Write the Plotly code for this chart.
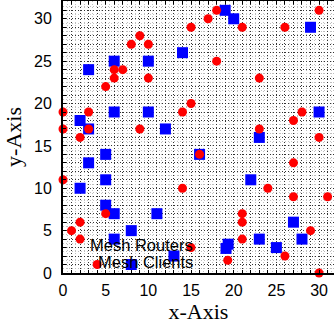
import plotly.graph_objects as go

# Mesh routers (blue squares)
routers_x = [3, 6, 10, 2, 6, 10, 3, 12, 5, 3,
             19, 20, 29, 14, 30, 23, 16,
             2, 5, 5, 6, 11, 8, 6, 8, 13,
             22, 27, 23, 28, 25, 19.1, 19.35]
routers_y = [24, 25, 25, 18, 19, 19, 17, 17, 14, 13,
             31, 30, 29, 26, 19, 16, 14,
             10, 11, 8, 7, 7, 5, 4, 1, 2,
             11, 6, 4, 4, 3, 2.9, 3.4]

# Mesh clients (red circles)
clients_x = [0, 0, 2, 3, 3, 5, 6, 6, 7, 8, 9, 10, 10, 9,
             18, 17, 15, 21, 26, 30, 18, 23, 15, 14, 28, 27, 23, 30, 16, 27,
             0, 2, 1, 2, 5, 4,
             14, 24, 27, 31, 21, 21, 21, 29, 15, 26, 19.3, 30]
clients_y = [19, 17, 16, 19, 17, 22, 24, 23, 24, 27, 28, 27, 23, 17,
             31, 30, 29, 29, 29, 31, 25, 23, 20, 19, 19, 18, 17, 16, 14, 13,
             11, 6, 5, 4, 7, 1,
             10, 10, 9, 9, 7, 6, 4, 5, 3, 2, 1.5, 0]

tick_vals = list(range(0, 33))
tick_text = [str(v) if v % 5 == 0 else "" for v in tick_vals]
legend_labels = ["Mesh Routers", "Mesh Clients"]

fig = go.Figure()
fig.add_trace(go.Scatter(x=routers_x, y=routers_y, mode="markers", name=legend_labels[0],
                         marker=dict(symbol="square", size=11, color="#0000ff", line=dict(width=0)),
                         cliponaxis=False))
fig.add_trace(go.Scatter(x=clients_x, y=clients_y, mode="markers", name=legend_labels[1],
                         marker=dict(symbol="circle", size=9, color="#ff0000", line=dict(width=0)),
                         cliponaxis=False))

axis_common = dict(
    tickmode="array", tickvals=tick_vals, ticktext=tick_text,
    ticks="inside", ticklen=3, tickwidth=1, tickcolor="black",
    showgrid=True, gridcolor="#333333", griddash="1px,2px", gridwidth=1,
    minor=dict(dtick=0.5, tick0=0, showgrid=True, gridcolor="#bfbfbf", gridwidth=1, ticks=""),
    showline=True, linecolor="black", linewidth=2,
    zeroline=False,
    tickfont=dict(family="Liberation Sans, Arial, sans-serif", size=16, color="black"),
)

fig.update_xaxes(**axis_common, range=[0, 31.75], mirror="ticks",
                 title=dict(text="x-Axis", font=dict(family="Liberation Serif, Times New Roman, serif", size=22, color="black"), standoff=4),
                 ticklabelstandoff=2)
fig.update_yaxes(**axis_common, range=[0, 32.1],
                 title=dict(text="y-Axis", font=dict(family="Liberation Serif, Times New Roman, serif", size=22, color="black"), standoff=6),
                 ticklabelstandoff=6)

fig.add_annotation(text=legend_labels[0], xref="paper", yref="paper", x=0.487, y=0.103,
                   xanchor="right", yanchor="middle", showarrow=False,
                   font=dict(family="Liberation Sans, Arial, sans-serif", size=16.5, color="black"))
fig.add_annotation(text=legend_labels[1], xref="paper", yref="paper", x=0.487, y=0.040,
                   xanchor="right", yanchor="middle", showarrow=False,
                   font=dict(family="Liberation Sans, Arial, sans-serif", size=16.5, color="black"))

fig.update_layout(
    width=334, height=327,
    margin=dict(l=63, r=0, t=1, b=54),
    plot_bgcolor="white", paper_bgcolor="white",
    showlegend=False,
)

fig.write_html("out.html", config={"displayModeBar": False},
               post_script="document.body.style.margin='0';document.body.style.overflow='hidden';")
